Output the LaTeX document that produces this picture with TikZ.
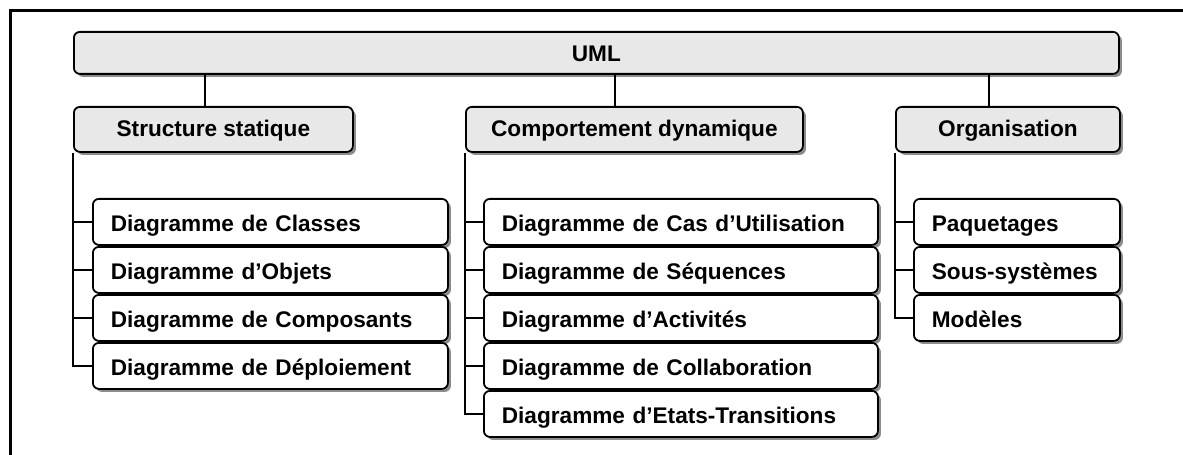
\documentclass[tikz,border=0pt]{standalone}
\usepackage{fontspec}
\setmainfont{Liberation Sans}
\usetikzlibrary{shadows}

\begin{document}
\begin{tikzpicture}[x=0.03cm, y=-0.03cm,
    box/.style={draw, line width=1.5pt, rounded corners=0.18cm, anchor=north west,
      font=\fontsize{19.3}{23}\selectfont\bfseries, inner sep=0pt,
      drop shadow={shadow xshift=0.09cm, shadow yshift=-0.09cm, fill=black!45, opacity=1}},
    head/.style={box, fill=black!9, minimum height=1.35cm, minimum width=#1, text height=17pt, text depth=5pt},
    leaf/.style={box, fill=white, minimum height=1.38cm, inner xsep=0.54cm, text width=#1, align=left,
      text height=22pt, text depth=5pt},
    link/.style={line width=1.2pt}]
    \useasboundingbox (0,0) rectangle (1183,455);
    \draw[line width=0.09cm] (10,455) -- (10,10.5) -- (1183,10.5); % page frame, left and top only
    \node[box, fill=black!9, minimum width=31.35cm, minimum height=1.26cm, text height=19pt, text depth=5pt] (uml) at (73,31) {UML};
    % second level
    \node[head=8.37cm] (ss) at (73,106) {Structure statique};
    \node[head=10.11cm] (cd) at (465,106) {Comportement dynamique};
    \node[head=6.72cm] (org) at (895,106) {Organisation};
    \draw[link] ([xshift=-0.255cm]ss.north) -- ([xshift=-0.255cm]ss.north |- uml.south);
    \draw[link] ([xshift=-0.585cm]cd.north) -- ([xshift=-0.585cm]cd.north |- uml.south);
    \draw[link] ([xshift=-0.57cm]org.north) -- ([xshift=-0.57cm]org.north |- uml.south);
    % structure statique
    \node[leaf=9.57cm] (ss1) at (92,198) {Diagramme de Classes};
    \node[leaf=9.57cm] (ss2) at (92,246) {Diagramme d’Objets};
    \node[leaf=9.57cm] (ss3) at (92,294) {Diagramme de Composants};
    \node[leaf=9.57cm] (ss4) at (92,342) {Diagramme de Déploiement};
    \draw[link] (ss.south west) |- (ss4.west);
    \draw[link] (ss.south west |- ss1.west) -- (ss1.west);
    \draw[link] (ss.south west |- ss2.west) -- (ss2.west);
    \draw[link] (ss.south west |- ss3.west) -- (ss3.west);
    % comportement dynamique
    \node[leaf=10.74cm] (cd1) at (483,198) {Diagramme de Cas d’Utilisation};
    \node[leaf=10.74cm] (cd2) at (483,246) {Diagramme de Séquences};
    \node[leaf=10.74cm] (cd3) at (483,294) {Diagramme d’Activités};
    \node[leaf=10.74cm] (cd4) at (483,342) {Diagramme de Collaboration};
    \node[leaf=10.74cm] (cd5) at (483,390) {Diagramme d’Etats-Transitions};
    \draw[link] (cd.south west) |- (cd5.west);
    \draw[link] (cd.south west |- cd1.west) -- (cd1.west);
    \draw[link] (cd.south west |- cd2.west) -- (cd2.west);
    \draw[link] (cd.south west |- cd3.west) -- (cd3.west);
    \draw[link] (cd.south west |- cd4.west) -- (cd4.west);
    % organisation
    \node[leaf=5.10cm] (org1) at (913,198) {Paquetages};
    \node[leaf=5.10cm] (org2) at (913,246) {Sous-systèmes};
    \node[leaf=5.10cm] (org3) at (913,294) {Modèles};
    \draw[link] (org.south west) |- (org3.west);
    \draw[link] (org.south west |- org1.west) -- (org1.west);
    \draw[link] (org.south west |- org2.west) -- (org2.west);
\end{tikzpicture}
\end{document}
